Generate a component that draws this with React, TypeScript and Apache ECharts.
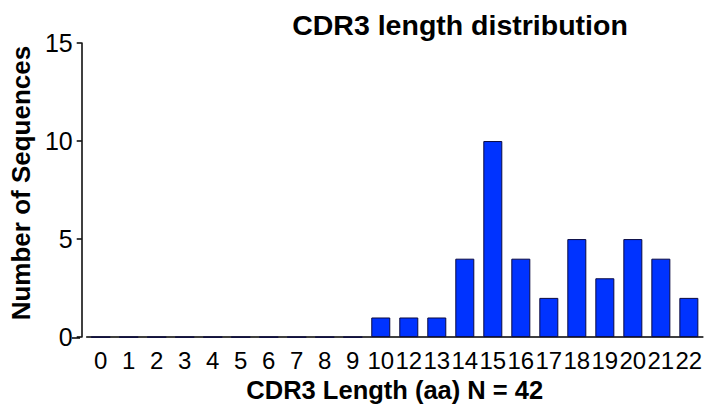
import React, { useEffect, useRef } from "react";
import * as echarts from "echarts";

const categories = ["0", "1", "2", "3", "4", "5", "6", "7", "8", "9", "10", "12", "13", "14", "15", "16", "17", "18", "19", "20", "21", "22"];
const counts = [0, 0, 0, 0, 0, 0, 0, 0, 0, 0, 1, 1, 1, 4, 10, 4, 2, 5, 3, 5, 4, 2];
const yTicks = [0, 5, 10, 15];
const titleText = "CDR3 length distribution";
const xName = "CDR3 Length (aa) N = 42";
const yName = "Number of Sequences";

const FONT = "Arial, 'Liberation Sans', Helvetica, sans-serif";

export default function App() {
  const ref = useRef<HTMLDivElement>(null);
  useEffect(() => {
    document.body.style.margin = "0";
    const chart = echarts.init(ref.current!, null, { renderer: "svg" });
    chart.setOption({
      animation: false,
      backgroundColor: "#ffffff",
      title: {
        text: titleText,
        left: 455,
        top: 5,
        textAlign: "center",
        textStyle: { fontFamily: FONT, fontSize: 28.5, fontWeight: "bold", color: "#000" },
      },
      grid: { left: 79, right: 1, top: 43, bottom: 70, containLabel: false },
      xAxis: {
        type: "category",
        data: categories,
        name: xName,
        nameLocation: "middle",
        nameGap: 35,
        nameTextStyle: { fontFamily: FONT, fontSize: 25.5, fontWeight: "bold", color: "#000" },
        axisLine: { lineStyle: { color: "#000", width: 1.5 } },
        axisTick: { alignWithLabel: true, length: 4, lineStyle: { color: "#000", width: 1.5 } },
        axisLabel: { interval: 0, margin: 11, fontFamily: FONT, fontSize: 24, color: "#000" },
      },
      yAxis: {
        type: "value",
        min: yTicks[0],
        max: yTicks[yTicks.length - 1],
        interval: 5,
        offset: 5,
        name: yName,
        nameLocation: "middle",
        nameGap: 45,
        nameTextStyle: { fontFamily: FONT, fontSize: 26, fontWeight: "bold", color: "#000", padding: [0, 0, 0, 14] },
        axisLine: { show: true, lineStyle: { color: "#000", width: 1.5 } },
        axisTick: { show: true, length: 5, lineStyle: { color: "#000", width: 1.5 } },
        axisLabel: { margin: 9, fontFamily: FONT, fontSize: 25, color: "#000" },
        splitLine: { show: false },
      },
      graphic: [
        {
          type: "line",
          shape: { x1: 72, y1: 338, x2: 80, y2: 338 },
          style: { stroke: "#000", lineWidth: 1.5 },
        },
      ],
      series: [
        {
          type: "bar",
          data: counts,
          barWidth: 19,
          itemStyle: { color: "#0033ff", borderColor: "#0a0a40", borderWidth: 1 },
        },
      ],
    });
    return () => chart.dispose();
  }, []);
  return <div ref={ref} style={{ position: "absolute", left: 0, top: 0, width: 705, height: 408 }} />;
}
